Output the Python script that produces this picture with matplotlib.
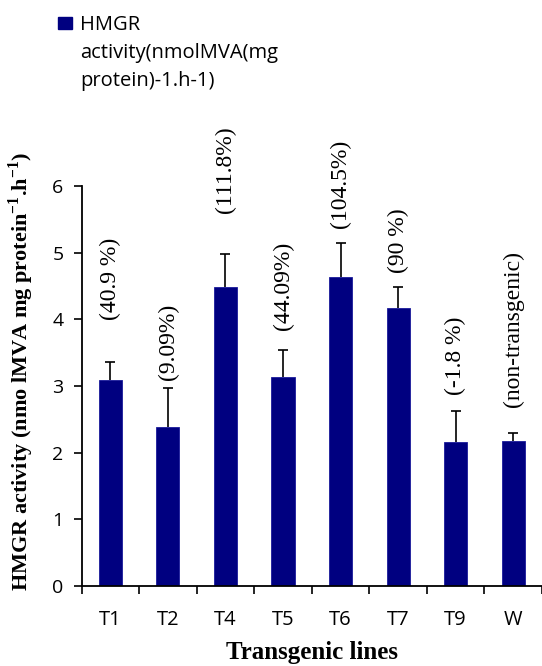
import matplotlib
matplotlib.use("Agg")
import matplotlib.pyplot as plt
from matplotlib.patches import Rectangle

# data
lines = ["T1", "T2", "T4", "T5", "T6", "T7", "T9", "W"]
activity = [3.09, 2.38, 4.49, 3.13, 4.64, 4.17, 2.16, 2.18]
errors = [0.27, 0.59, 0.49, 0.41, 0.51, 0.31, 0.47, 0.11]
change_labels = ["(40.9 %)", "(9.09%)", "(111.8%)", "(44.09%)",
                 "(104.5%)", "(90 %)", "(-1.8 %)", "(non-transgenic)"]
legend_label = "HMGR\nactivity(nmolMVA(mg\nprotein)-1.h-1)"

BAR_COLOR = "#000080"
SANS = ["Open Sans", "DejaVu Sans"]
SERIF = ["Liberation Serif", "DejaVu Serif"]

plt.rcParams["mathtext.fontset"] = "custom"
plt.rcParams["mathtext.rm"] = "Liberation Serif"
plt.rcParams["mathtext.bf"] = "Liberation Serif:bold"

fig = plt.figure(figsize=(5.42, 6.66), dpi=100)
ax = fig.add_axes([0.1507, 0.1201, 0.849, 0.6006])

x = list(range(len(lines)))
bars = ax.bar(x, activity, width=0.4, color=BAR_COLOR, edgecolor="#1a1a9a", linewidth=0.6,
              yerr=[[0] * len(errors), errors], ecolor="black",
              error_kw=dict(elinewidth=1.2, capsize=3.6, capthick=1.2))
# only the upper whisker is drawn in the reference
bars.errorbar.lines[1][0].set_visible(False)

# gap between the error bar top and the rotated percentage label
label_gap = [0.63, 0.12, 0.62, 0.30, 0.22, 0.22, 0.24, 0.40]
for xi, val, err, gap, txt in zip(x, activity, errors, label_gap, change_labels):
    ax.text(xi, val + err + gap, txt, rotation=90, ha="center", va="bottom",
            fontsize=17, family=SERIF, clip_on=False)

ax.set_xlim(-0.5, len(lines) - 0.5)
ax.set_ylim(0, 6)
ax.set_yticks(range(0, 7))
ax.set_xticks([i + 0.5 for i in range(-1, len(lines))], minor=False)
ax.set_xticklabels([])
ax.set_xticks(x, minor=True)
ax.set_xticklabels(lines, minor=True, fontsize=14.5, family=SANS)
ax.tick_params(axis="x", which="major", direction="out", length=6, width=1.2)
ax.tick_params(axis="x", which="minor", length=0, pad=17)
ax.tick_params(axis="y", direction="out", length=6, width=1.2, pad=7, labelsize=14)
for lab in ax.get_yticklabels():
    lab.set_family(SANS)

for side in ("top", "right"):
    ax.spines[side].set_visible(False)
for side in ("left", "bottom"):
    ax.spines[side].set_linewidth(1.3)

ax.set_ylabel(r"HMGR activity (nmo lMVA mg protein$^{\mathbf{-1}}$.h$^{\mathbf{-1}}$)",
              fontsize=16, fontweight="bold", family=SERIF)
ax.yaxis.set_label_coords(-0.1, 0.535)
ax.set_xlabel("Transgenic lines", fontsize=18, fontweight="bold", family=SERIF, labelpad=8)

# legend drawn at the top left of the figure
fig.add_artist(Rectangle((58 / 542, 1 - 29 / 666), 14 / 542, 12 / 666,
                         transform=fig.transFigure, color=BAR_COLOR))
fig.text(80 / 542, 1 - 86 / 666, legend_label, ha="left", va="baseline",
         fontsize=14.5, family=SANS, linespacing=1.52)

fig.savefig("out.png", dpi=100)
